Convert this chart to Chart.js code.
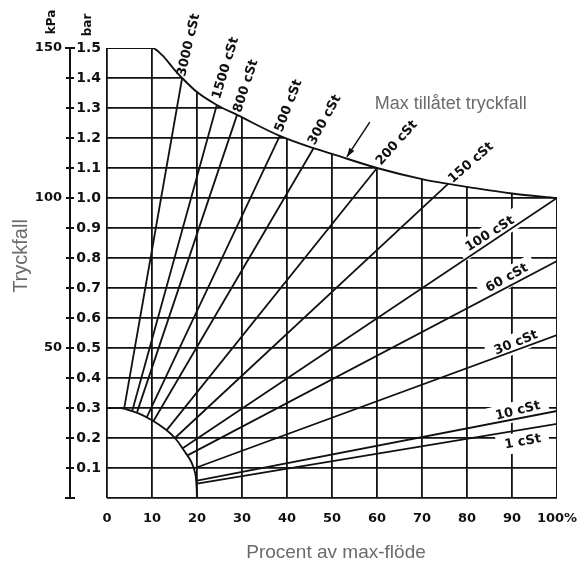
<!DOCTYPE html>
<html><head><meta charset="utf-8">
<script src="https://cdn.jsdelivr.net/npm/chart.js@4.4.0/dist/chart.umd.min.js"></script>
<style>html,body{margin:0;padding:0;background:#fff}#wrap{width:579px;height:562px}</style>
</head><body><div id="wrap"><canvas id="c" width="579" height="562"></canvas></div>
<script>
// ---- data ----
const xTickLabels = ['0','10','20','30','40','50','60','70','80','90','100%'];
const kpaTickLabels = [50, 100, 150];
// upper limit curve "Max tillåtet tryckfall"
const maxCurveX = [0, 10, 12.2, 14.7, 16.7, 20, 24.4, 28.9, 38.4, 45.9, 50, 60, 70, 75.8, 80, 90, 100];
const maxCurveY = [1.5, 1.5, 1.477, 1.433, 1.4, 1.353, 1.31, 1.277, 1.207, 1.166, 1.147, 1.10, 1.063, 1.047, 1.037, 1.015, 1.0];
// lower boundary arc
const arcX = [0, 3, 4, 7, 9.9, 12.9, 15.1, 17.3, 18.7, 19.6, 19.9, 20];
const arcY = [0.3, 0.3, 0.297, 0.282, 0.26, 0.23, 0.2, 0.154, 0.121, 0.083, 0.04, 0];
// viscosity lines
const viscNames = ['3000 cSt','1500 cSt','800 cSt','500 cSt','300 cSt','200 cSt','150 cSt','100 cSt','60 cSt','30 cSt','10 cSt','1 cSt'];
const viscStartX = [3.8, 5.6, 6.7, 8.8, 10.3, 13.3, 15.1, 16.9, 18, 19.6, 20, 20];
const viscStartY = [0.297, 0.29, 0.287, 0.268, 0.256, 0.227, 0.2, 0.167, 0.143, 0.1, 0.058, 0.048];
const viscEndX = [16.7, 24.4, 28.9, 38.4, 45.9, 60, 75.8, 100, 100, 100, 100, 100];
const viscEndY = [1.4, 1.31, 1.277, 1.207, 1.166, 1.10, 1.047, 1.0, 0.79, 0.543, 0.29, 0.247];

// ---- label placement (annotation layout) ----
const labelPos = [
  {x:18.2,y:1.51,a:-77},{x:26.4,y:1.433,a:-73},{x:30.9,y:1.373,a:-72},{x:40.4,y:1.307,a:-69},
  {x:48.4,y:1.26,a:-61},{x:64.4,y:1.183,a:-48},{x:80.9,y:1.117,a:-41},
  {x:85.1,y:0.88,a:-32,box:true},{x:88.9,y:0.733,a:-29,box:true},{x:90.9,y:0.517,a:-22,box:true},
  {x:91.3,y:0.29,a:-14,box:true},{x:92.4,y:0.187,a:-10,box:true}
];
const LABEL_FONT = 'bold 13px "DejaVu Sans", sans-serif';
const GRAY = '#6b6b6b';
const INK = '#111';

const datasets = [];
datasets.push({
  data: maxCurveX.map((v,i)=>({x:v,y:maxCurveY[i]})),
  borderColor:INK, borderWidth:1.9, pointRadius:0, showLine:true,
  cubicInterpolationMode:'monotone', fill:'end', backgroundColor:'#ffffff'
});
// right frame edge, from the axis up to the end of the limit curve
datasets.push({
  data: [{x:maxCurveX[maxCurveX.length-1], y:0},{x:maxCurveX[maxCurveX.length-1], y:maxCurveY[maxCurveY.length-1]}],
  borderColor:INK, borderWidth:1.9, pointRadius:0, showLine:true, fill:false
});
datasets.push({
  data: arcX.map((v,i)=>({x:v,y:arcY[i]})),
  borderColor:INK, borderWidth:1.9, pointRadius:0, showLine:true, tension:0.4, fill:false
});
viscNames.forEach((n,i)=>{
  datasets.push({
    label:n,
    data:[{x:viscStartX[i],y:viscStartY[i]},{x:viscEndX[i],y:viscEndY[i]}],
    borderColor:INK, borderWidth:1.8, pointRadius:0, showLine:true, fill:false
  });
});

const deco = {
  id:'deco',
  beforeDatasetsDraw(chart){
    const {ctx, scales:{x,y}} = chart;
    ctx.save();
    ctx.font = LABEL_FONT;
    labelPos.forEach((l,i)=>{
      if(!l.box) return;
      const px=x.getPixelForValue(l.x), py=y.getPixelForValue(l.y);
      const w=ctx.measureText(viscNames[i]).width;
      ctx.save(); ctx.translate(px,py); ctx.rotate(l.a*Math.PI/180);
      ctx.fillStyle='#fff'; ctx.fillRect(-w/2-8,-10,w+16,20);
      ctx.restore();
    });
    ctx.restore();
  },
  afterDatasetsDraw(chart){
    const {ctx, scales:{x,y,yk}} = chart;
    ctx.save();
    // viscosity labels
    ctx.font = LABEL_FONT; ctx.fillStyle=INK; ctx.textAlign='center'; ctx.textBaseline='middle';
    labelPos.forEach((l,i)=>{
      const px=x.getPixelForValue(l.x), py=y.getPixelForValue(l.y);
      ctx.save(); ctx.translate(px,py); ctx.rotate(l.a*Math.PI/180);
      ctx.fillText(viscNames[i],0,0); ctx.restore();
    });
    // kPa axis line with crossing ticks
    const ax = yk.right;
    ctx.strokeStyle=INK; ctx.lineWidth=2;
    ctx.beginPath(); ctx.moveTo(ax, yk.getPixelForValue(0)); ctx.lineTo(ax, yk.getPixelForValue(150)); ctx.stroke();
    yk.ticks.forEach(t=>{
      const py=yk.getPixelForValue(t.value);
      const w = (t.value===0||t.value===150)?5:4;
      ctx.beginPath(); ctx.moveTo(ax-w,py); ctx.lineTo(ax+w,py); ctx.stroke();
    });
    // unit headers
    ctx.font='bold 12px "DejaVu Sans", sans-serif';
    ctx.save(); ctx.translate(52,22); ctx.rotate(-Math.PI/2); ctx.fillText('kPa',0,0); ctx.restore();
    ctx.save(); ctx.translate(88,25); ctx.rotate(-Math.PI/2); ctx.fillText('bar',0,0); ctx.restore();
    // max annotation
    ctx.fillStyle=GRAY; ctx.font='18px "Liberation Sans", Arial, sans-serif';
    ctx.fillText('Max tillåtet tryckfall', x.getPixelForValue(76.4), y.getPixelForValue(1.313));
    const ax0=x.getPixelForValue(58.4), ay0=y.getPixelForValue(1.253);
    const ax1=x.getPixelForValue(53.3), ay1=y.getPixelForValue(1.137);
    ctx.strokeStyle=INK; ctx.lineWidth=1.5;
    ctx.beginPath(); ctx.moveTo(ax0,ay0); ctx.lineTo(ax1,ay1); ctx.stroke();
    const ang=Math.atan2(ay1-ay0, ax1-ax0);
    ctx.fillStyle=INK; ctx.beginPath();
    ctx.moveTo(ax1,ay1);
    ctx.lineTo(ax1-9*Math.cos(ang)+3*Math.sin(ang), ay1-9*Math.sin(ang)-3*Math.cos(ang));
    ctx.lineTo(ax1-9*Math.cos(ang)-3*Math.sin(ang), ay1-9*Math.sin(ang)+3*Math.cos(ang));
    ctx.closePath(); ctx.fill();
    // axis titles
    ctx.fillStyle=GRAY; ctx.font='20px "Liberation Sans", Arial, sans-serif';
    ctx.save(); ctx.translate(21,256); ctx.rotate(-Math.PI/2); ctx.fillText('Tryckfall',0,0); ctx.restore();
    ctx.font='19px "Liberation Sans", Arial, sans-serif';
    ctx.fillText('Procent av max-flöde', (x.left+x.right)/2 + 4, 553);
    ctx.restore();
  }
};

new Chart(document.getElementById('c'), {
  type:'scatter',
  data:{datasets},
  plugins:[deco],
  options:{
    responsive:false, maintainAspectRatio:false, animation:false,
    layout:{padding:{top:48,right:22,bottom:0,left:0}},
    plugins:{legend:{display:false},tooltip:{enabled:false},filler:{propagate:false}},
    scales:{
      x:{type:'linear',min:0,max:100,
        ticks:{stepSize:10,padding:13,color:INK,maxRotation:0,minRotation:0,autoSkip:false,
          font:{family:'DejaVu Sans',weight:'bold',size:13},
          callback:(v)=>xTickLabels[Math.round(v/10)]},
        grid:{color:(c)=> (c.tick && c.tick.value>99) ? 'rgba(0,0,0,0)' : INK,lineWidth:1.8,drawTicks:false},
        border:{display:false},
        afterFit:(s)=>{s.height=64; s.paddingLeft=0; s.paddingRight=0;}
      },
      y:{type:'linear',position:'left',min:0,max:1.5,weight:0,
        ticks:{stepSize:0.1,padding:6,color:INK,font:{family:'DejaVu Sans',weight:'bold',size:14},
          callback:(v)=> v>0.001 ? Number(v).toFixed(1) : ''},
        grid:{color:(c)=> (c.tick && c.tick.value>1.49) ? 'rgba(0,0,0,0)' : INK,lineWidth:1.8,drawTicks:false},
        border:{display:false},
        afterFit:(s)=>{s.width=37; s.paddingTop=0; s.paddingBottom=0;}
      },
      yk:{type:'linear',position:'left',min:0,max:150,weight:1,
        ticks:{stepSize:10,padding:8,color:INK,font:{family:'DejaVu Sans',weight:'bold',size:13},
          callback:(v)=> kpaTickLabels.includes(Math.round(v)) ? String(Math.round(v)) : ''},
        grid:{display:false,drawTicks:false},
        border:{display:false},
        afterFit:(s)=>{s.width=70; s.paddingTop=0; s.paddingBottom=0;}
      }
    }
  }
});
</script>
</body></html>
